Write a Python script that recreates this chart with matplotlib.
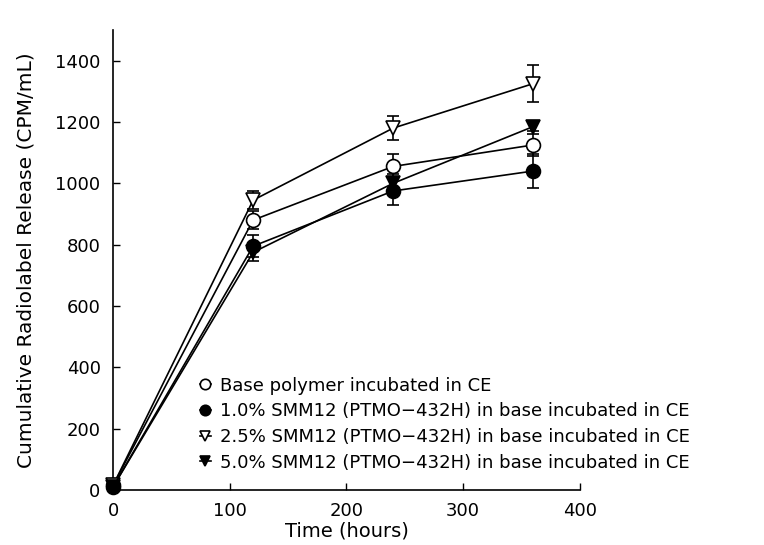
import matplotlib.pyplot as plt
import numpy as np

# time points (hours)
time_h = [0, 120, 240, 360]

base_y = [15, 880, 1055, 1125]
base_err = [0, 30, 40, 35]

smm10_y = [10, 795, 975, 1040]
smm10_err = [0, 35, 45, 55]

smm25_y = [15, 945, 1180, 1325]
smm25_err = [0, 30, 40, 60]

smm50_y = [10, 775, 1000, 1185]
smm50_err = [0, 30, 30, 15]

labels = ["Base polymer incubated in CE",
          "1.0% SMM12 (PTMO\u2212432H) in base incubated in CE",
          "2.5% SMM12 (PTMO\u2212432H) in base incubated in CE",
          "5.0% SMM12 (PTMO\u2212432H) in base incubated in CE"]

plt.rcParams['font.family'] = ['DejaVu Sans']

fig = plt.figure(figsize=(7.64, 5.45), dpi=100)
ax = fig.add_axes([0.148, 0.101, 0.611, 0.844])

series = [
    (base_y, base_err, 'o', 'white', 10),
    (smm10_y, smm10_err, 'o', 'black', 10),
    (smm25_y, smm25_err, 'v', 'white', 10.5),
    (smm50_y, smm50_err, 'v', 'black', 10.5),
]

for (y, e, m, fc, ms), lab in zip(series, labels):
    ax.errorbar(time_h, y, yerr=e, marker=m, markersize=ms, mfc=fc, mec='black',
                mew=1.2, color='black', lw=1.2, ecolor='black', elinewidth=1.2,
                capsize=4, capthick=1.2, label=lab, clip_on=False, zorder=3)

ax.set_xlim(0, 400)
ax.set_ylim(0, 1500)
ax.set_xticks([0, 100, 200, 300, 400])
ax.set_yticks([0, 200, 400, 600, 800, 1000, 1200, 1400])
ax.tick_params(direction='in', length=5, width=1, labelsize=13, pad=9)
ax.spines['top'].set_visible(False)
ax.spines['right'].set_visible(False)
ax.spines['left'].set_linewidth(1.2)
ax.spines['bottom'].set_linewidth(1.2)

ax.set_xlabel("Time (hours)", fontsize=14, labelpad=1)
ax.set_ylabel("Cumulative Radiolabel Release (CPM/mL)", fontsize=14.5, labelpad=14)

handles, labs = ax.get_legend_handles_labels()
handles = [h[0] for h in handles]
leg = ax.legend(handles, labs, loc='lower left', bbox_to_anchor=(0.186, 0.04),
                frameon=False, fontsize=13, handlelength=0.6, handletextpad=0.5,
                labelspacing=0.42, borderaxespad=0, borderpad=0, markerscale=0.75)

fig.savefig("out.png", dpi=100)
